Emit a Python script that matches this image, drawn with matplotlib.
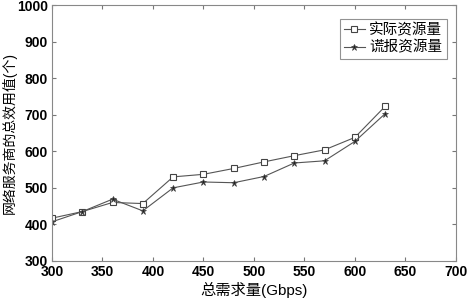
import numpy as np
import matplotlib
matplotlib.use("Agg")
import matplotlib.pyplot as plt

plt.rcParams['font.family'] = ['Liberation Sans', 'Noto Sans CJK SC', 'DejaVu Sans']

demand = [300, 330, 360, 390, 420, 450, 480, 510, 540, 570, 600, 630]
actual = [417, 435, 460, 457, 530, 537, 553, 571, 588, 604, 638, 723]
reported = [407, 435, 469, 437, 500, 516, 514, 531, 568, 574, 627, 703]

x_ticks = [300, 350, 400, 450, 500, 550, 600, 650, 700]
y_ticks = [300, 400, 500, 600, 700, 800, 900, 1000]


def main():
    fig = plt.figure(figsize=(4.68, 3.02), dpi=100)
    ax = fig.add_axes([0.111, 0.136, 0.863, 0.847])

    ax.plot(demand, actual, color="#555555", lw=0.8, marker="s", ms=4,
            mfc="white", mec="#444444", mew=0.8, label="实际资源量")
    ax.plot(demand, reported, color="#555555", lw=0.8, marker="*", ms=5,
            mfc="#222222", mec="#444444", mew=0.5, label="谎报资源量")

    ax.set_xlim(300, 700)
    ax.set_ylim(300, 1000)
    ax.set_xticks(x_ticks)
    ax.set_yticks(y_ticks)
    ax.tick_params(direction="in", top=True, right=True, length=3,
                   color="#777777", labelsize=10, pad=3)
    for lbl in ax.get_xticklabels() + ax.get_yticklabels():
        lbl.set_fontweight("bold")
    for s in ax.spines.values():
        s.set_color("#888888")
        s.set_linewidth(0.8)

    ax.set_xlabel("总需求量(Gbps)", fontsize=11, labelpad=2)
    ax.set_ylabel("网络服务商的总效用值(个)", fontsize=10, labelpad=0)

    leg = ax.legend(loc="upper right", fontsize=10.5, frameon=True,
                    fancybox=False, handlelength=1.4, handletextpad=0.3,
                    borderpad=0.3, labelspacing=0.2,
                    bbox_to_anchor=(0.995, 0.975))
    leg.get_frame().set_edgecolor("#777777")
    leg.get_frame().set_linewidth(0.8)

    fig.savefig("out.png", dpi=100)


if __name__ == "__main__":
    main()
